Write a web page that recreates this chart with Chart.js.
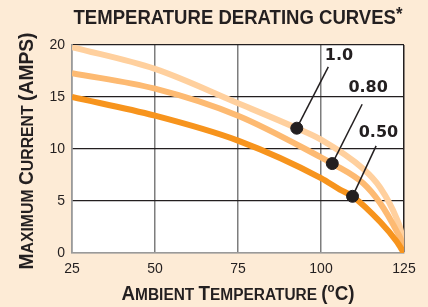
<!DOCTYPE html>
<html>
<head>
<meta charset="utf-8">
<script src="https://cdn.jsdelivr.net/npm/chart.js@4/dist/chart.umd.min.js"></script>
<style>
  html, body { margin: 0; padding: 0; background: #fdebd6; }
  #wrap { width: 428px; height: 307px; position: relative; }
</style>
</head>
<body>
<div id="wrap"><canvas id="chart"></canvas></div>
<script>
// curve data (temperature in C, current in amps)
const temps100 = [25, 50, 75, 92.7, 100, 112.7, 117.8, 122.8, 124.3, 125];
const amps100 = [19.8, 17.7, 14.4, 12.0, 10.9, 8.1, 6.3, 3.3, 1.8, 0];
const temps80 = [25, 50, 75, 100, 103.4, 112.7, 117.8, 122.8, 124.3, 125];
const amps80 = [17.3, 15.8, 13.2, 9.2, 8.6, 6.7, 4.8, 2.1, 1.1, 0];
const temps50 = [25, 50, 75, 100, 105.7, 109.5, 117.8, 122.8, 125];
const amps50 = [15.0, 13.2, 10.8, 7.2, 6.1, 5.45, 3.0, 1.1, 0];

// callout dots, leader ends and labels
const dotTemps = [92.7, 103.4, 109.5];
const dotAmps = [12.0, 8.6, 5.45];
const leaderTemps = [102.2, 112.4, 116.6];
const leaderAmps = [17.9, 14.3, 10.3];
const labelTexts = ['1.0', '0.80', '0.50'];
const labelTemps = [105.4, 114.2, 117.3];
const labelAmps = [19.0, 15.9, 11.6];

const xTicks = [25, 50, 75, 100, 125];
const yTicks = [0, 5, 10, 15, 20];

const INK = '#231f20';
const FONT = '"Liberation Sans", Arial, Helvetica, sans-serif';

const toPoints = (xs, ys) => xs.map((x, i) => ({x: x, y: ys[i]}));

const leaderSets = dotTemps.map((t, i) => ({
  type: 'line',
  data: [{x: t, y: dotAmps[i]}, {x: leaderTemps[i], y: leaderAmps[i]}],
  borderColor: INK,
  borderWidth: 1.5,
  pointRadius: 0,
  order: 1,
}));

// draw a run of [text, size, raise] pieces squeezed to a given width
function drawPieces(ctx, pieces, cx, cy, width, angle) {
  let total = 0;
  for (const p of pieces) {
    ctx.font = 'bold ' + p[1] + 'px ' + FONT;
    total += ctx.measureText(p[0]).width;
  }
  ctx.save();
  ctx.translate(cx, cy);
  ctx.rotate(angle);
  ctx.scale(width / total, 1);
  ctx.fillStyle = INK;
  ctx.textBaseline = 'alphabetic';
  ctx.textAlign = 'left';
  let x = -total / 2;
  for (const p of pieces) {
    ctx.font = 'bold ' + p[1] + 'px ' + FONT;
    ctx.fillText(p[0], x, p[2] || 0);
    x += ctx.measureText(p[0]).width;
  }
  ctx.restore();
}

const backdrop = {
  id: 'backdrop',
  beforeDraw(chart) {
    const {ctx, chartArea: a} = chart;
    ctx.save();
    ctx.fillStyle = '#fdebd6';
    ctx.fillRect(0, 0, chart.width, chart.height);
    ctx.fillStyle = '#ffffff';
    ctx.fillRect(a.left, a.top, a.right - a.left, a.bottom - a.top);
    ctx.restore();
  },
};

const texts = {
  id: 'texts',
  afterDraw(chart) {
    const {ctx, scales: {x, y}} = chart;
    // callout labels
    ctx.save();
    ctx.fillStyle = INK;
    ctx.font = 'bold 16px "DejaVu Sans", sans-serif';
    ctx.textAlign = 'center';
    ctx.textBaseline = 'middle';
    labelTexts.forEach((t, i) => {
      ctx.fillText(t, x.getPixelForValue(labelTemps[i]), y.getPixelForValue(labelAmps[i]));
    });
    ctx.restore();

    drawPieces(ctx, [['TEMPERATURE DERATING CURVES', 21], ['*', 19, -4]], 238, 24, 329, 0);
    drawPieces(ctx, [
      ['A', 19.5], ['MBIENT ', 16], ['T', 19.5], ['EMPERATURE ', 16],
      ['(', 19.5], ['o', 12, -8], ['C)', 19.5],
    ], 238, 300, 233, 0);
    drawPieces(ctx, [
      ['M', 19.5], ['AXIMUM ', 16], ['C', 19.5], ['URRENT ', 16], ['(AMPS)', 19.5],
    ], 33, 151, 237, -Math.PI / 2);
  },
};

new Chart(document.getElementById('chart'), {
  type: 'line',
  data: {
    datasets: [
      {
        type: 'scatter',
        data: toPoints(dotTemps, dotAmps),
        backgroundColor: INK,
        borderColor: INK,
        pointRadius: 6,
        order: 0,
      },
      ...leaderSets,
      {
        data: toPoints(temps50, amps50),
        borderColor: '#f7941d',
        borderWidth: 6,
        pointRadius: 0,
        cubicInterpolationMode: 'monotone',
        order: 2,
      },
      {
        data: toPoints(temps80, amps80),
        borderColor: '#fdba72',
        borderWidth: 6,
        pointRadius: 0,
        cubicInterpolationMode: 'monotone',
        order: 3,
      },
      {
        data: toPoints(temps100, amps100),
        borderColor: '#ffd09e',
        borderWidth: 6,
        pointRadius: 0,
        cubicInterpolationMode: 'monotone',
        order: 4,
      },
    ],
  },
  options: {
    responsive: true,
    maintainAspectRatio: false,
    animation: false,
    parsing: false,
    layout: { padding: { top: 45, right: 24, left: 0, bottom: 0 } },
    plugins: {
      legend: { display: false },
      tooltip: { enabled: false },
    },
    scales: {
      x: {
        type: 'linear',
        min: 25,
        max: 125,
        afterBuildTicks: (s) => { s.ticks = xTicks.map(v => ({value: v})); },
        afterFit: (s) => { s.height = 54; },
        ticks: { color: INK, font: { family: FONT, size: 14 }, padding: 8 },
        grid: {
          drawTicks: false,
          lineWidth: 1.5,
          color: (c) => c.tick && c.tick.value === 125 ? INK : '#7d7d7d',
        },
        border: { color: '#9a9a9a', width: 1.5 },
      },
      y: {
        type: 'linear',
        min: 0,
        max: 20,
        afterBuildTicks: (s) => { s.ticks = yTicks.map(v => ({value: v})); },
        afterFit: (s) => { s.width = 72; },
        ticks: { color: INK, font: { family: FONT, size: 14 }, padding: 7 },
        grid: {
          drawTicks: false,
          lineWidth: 1.2,
          color: (c) => c.tick && c.tick.value === 0 ? '#9a9a9a' : INK,
        },
        border: { color: '#9a9a9a', width: 1.5 },
      },
    },
  },
  plugins: [backdrop, texts],
});
</script>
</body>
</html>
